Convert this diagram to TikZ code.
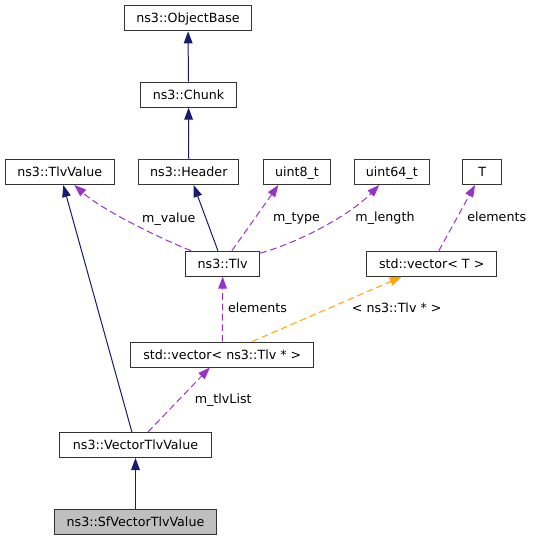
\documentclass[tikz,border=0pt]{standalone}
\usepackage{fontspec}
\setmainfont{DejaVu Sans}
\usetikzlibrary{arrows.meta}
\definecolor{inhblue}{rgb}{0.098,0.098,0.439}
\definecolor{mbrpurple}{rgb}{0.6,0.196,0.8}
\definecolor{tplorange}{rgb}{1,0.647,0}
\begin{document}
\begin{tikzpicture}[x=.75pt, y=-.75pt, >={Triangle[length=9pt,width=6.5pt]}, line width=.75pt,
		font=\fontsize{9.5}{11}\selectfont,
		cls/.style={draw=black!80, fill=white, minimum height=18.75pt, inner sep=0pt, text height=6.9pt, text depth=0pt},
		inh/.style={->, draw=inhblue},
		mbr/.style={->, draw=mbrpurple, dash pattern=on 5pt off 2.8pt},
		tpl/.style={->, draw=tplorange, dash pattern=on 5pt off 2.8pt},
		lbl/.style={anchor=base}]
	\useasboundingbox (0,0) rectangle (533,541);
	% Klassen
	\node[cls, minimum width=95.5pt] (objbase) at (188,18.3) {ns3::ObjectBase};
	\node[cls, minimum width=72pt] (chunk) at (188.5,94.7) {ns3::Chunk};
	\node[cls, minimum width=81.8pt] (tlvvalue) at (59.7,172) {ns3::TlvValue};
	\node[cls, minimum width=75pt] (header) at (188.8,172) {ns3::Header};
	\node[cls, minimum width=50.5pt] (uinteight) at (297,172) {uint8\_t};
	\node[cls, minimum width=56.3pt] (uintsixtyfour) at (391.8,172) {uint64\_t};
	\node[cls, minimum width=29.3pt] (tparam) at (482.2,172) {T};
	\node[cls, minimum width=55.5pt] (tlv) at (222.7,263.7) {ns3::Tlv};
	\node[cls, minimum width=97.5pt] (vect) at (431.7,263.7) {std::vector< T >};
	\node[cls, minimum width=137.5pt] (vectlv) at (222.3,354.5) {std::vector< ns3::Tlv * >};
	\node[cls, minimum width=113.3pt] (vectlvvalue) at (135.5,445) {ns3::VectorTlvValue};
	\node[cls, fill=black!25, minimum width=121.7pt] (sfvec) at (135.5,522.3) {ns3::SfVectorTlvValue};
	% Vererbung
	\draw[inh] (chunk) -- (objbase);
	\draw[inh] (header) -- (chunk);
	\draw[inh] (tlv) -- (header);
	\draw[inh] (vectlvvalue) -- (tlvvalue);
	\draw[inh] (sfvec) -- (vectlvvalue);
	% Member
	\draw[mbr] (tlv) .. controls (150,234) and (100,208) .. (tlvvalue);
	\draw[mbr] (tlv) -- (uinteight.215);
	\draw[mbr] (tlv) .. controls (300,242) and (350,215) .. (uintsixtyfour);
	\draw[mbr] (vect) -- (tparam);
	\draw[mbr] (vectlv) -- (tlv);
	\draw[mbr] (vectlvvalue) -- (vectlv);
	\draw[tpl] (vectlv) -- (vect);
	\node[lbl] (lvalue) at (168.8,222.5) {m\_value};
	\node[lbl] (ltype) at (296.5,221.7) {m\_type};
	\node[lbl] (llength) at (385,221.7) {m\_length};
	\node[lbl] (lelemt) at (496.7,221.7) {elements};
	\node[lbl] (lelemtlv) at (257.5,312.3) {elements};
	\node[lbl] (ltplarg) at (396.7,312.3) {< ns3::Tlv * >};
	\node[lbl] (ltlvlist) at (223.2,403.3) {m\_tlvList};
\end{tikzpicture}
\end{document}
